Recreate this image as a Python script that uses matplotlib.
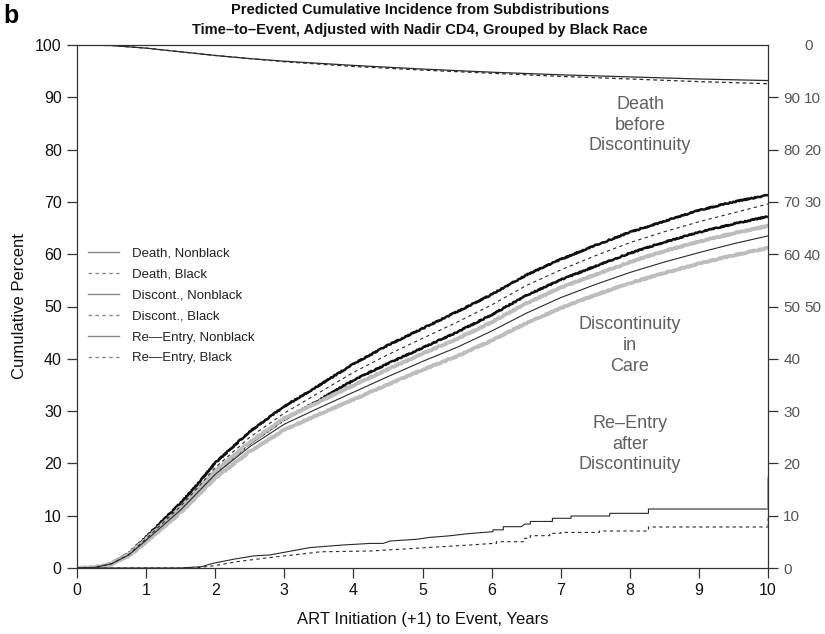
import matplotlib
matplotlib.use('Agg')
import matplotlib.pyplot as plt
from matplotlib.lines import Line2D
import numpy as np

plt.rcParams['font.family'] = ['Liberation Sans', 'DejaVu Sans']

# ---------------- data ----------------
# Discontinuity in care (cumulative %)
disc_x = [0, 0.25, 0.5, 0.75, 1, 1.25, 1.5, 1.75, 2, 2.5, 3, 3.5, 4, 4.5, 5,
          5.5, 6, 6.5, 7, 7.5, 8, 8.5, 9, 9.5, 10]
disc_nonblack = [0, 0.1, 0.8, 2.5, 5.3, 8.2, 11.1, 14.5, 17.9, 23.2, 27.5, 30.6,
                 33.6, 36.6, 39.5, 42.2, 45.3, 48.7, 51.7, 54.2, 56.5, 58.5, 60.3, 62.0, 63.5]
disc_nonblack_hi = [0, 0.1, 0.8, 2.6, 5.5, 8.5, 11.5, 15.0, 18.5, 24.1, 28.6, 31.8,
                    34.9, 38.0, 41.0, 43.8, 47.0, 50.6, 53.6, 56.1, 58.5, 60.6, 62.4, 64.0, 65.4]
disc_nonblack_lo = [0, 0.1, 0.7, 2.3, 5.0, 7.8, 10.6, 13.9, 17.2, 22.3, 26.4, 29.4,
                    32.2, 35.1, 37.9, 40.5, 43.5, 46.8, 49.7, 52.2, 54.5, 56.4, 58.2, 59.8, 61.2]
disc_black = [0, 0.1, 0.8, 2.6, 5.6, 8.7, 11.8, 15.4, 19.2, 25.0, 29.6, 33.5,
              37.4, 40.8, 43.9, 47.0, 50.3, 54.0, 57.0, 59.7, 62.2, 64.3, 66.2, 67.9, 69.6]
disc_black_hi = [0, 0.1, 0.9, 2.8, 5.9, 9.2, 12.4, 16.1, 20.1, 26.1, 30.9, 34.9,
                 39.0, 42.6, 45.8, 49.0, 52.3, 56.0, 59.0, 61.7, 64.2, 66.3, 68.4, 70.0, 71.3]
disc_black_lo = [0, 0.1, 0.7, 2.4, 5.3, 8.2, 11.2, 14.6, 18.3, 23.9, 28.4, 32.1,
                 35.9, 39.1, 42.1, 45.1, 48.4, 52.1, 55.1, 57.7, 60.2, 62.3, 64.2, 65.8, 67.2]

# Death before discontinuity (cumulative incidence %, drawn from the top)
death_x = [0, 0.5, 1, 1.5, 2, 2.5, 3, 4, 5, 6, 7, 8, 9, 10]
death_nonblack = [0, 0.1, 0.6, 1.3, 2.0, 2.6, 3.1, 3.9, 4.6, 5.2, 5.7, 6.1, 6.5, 6.8]
death_black = [0, 0.1, 0.6, 1.3, 2.0, 2.6, 3.2, 4.1, 4.8, 5.4, 6.0, 6.5, 7.0, 7.4]

# Re-entry after discontinuity (cumulative %)
reentry_nonblack_x = [0, 1.5, 1.8, 1.97, 2.26, 2.55, 2.79, 3.04, 3.37, 3.85, 4.24, 4.43,
                      4.53, 4.92, 5.11, 5.35, 5.69, 6.02, 6.02, 6.17, 6.17, 6.43, 6.48,
                      6.56, 6.56, 6.88, 6.88, 7.15, 7.15, 7.71, 7.71, 8.27, 8.27, 10]
reentry_nonblack = [0, 0.0, 0.25, 0.9, 1.66, 2.3, 2.5, 3.1, 3.9, 4.4, 4.7, 4.7,
                    5.16, 5.5, 5.86, 6.1, 6.6, 6.95, 7.3, 7.3, 7.9, 7.9, 8.4,
                    8.4, 8.9, 8.9, 9.5, 9.5, 9.94, 9.94, 10.45, 10.45, 11.28, 11.28]
reentry_black_x = [0, 1.7, 1.97, 2.31, 2.79, 3.27, 3.52, 4.24, 4.49, 5.06, 5.69, 6.02,
                   6.07, 6.07, 6.48, 6.48, 6.56, 6.56, 6.84, 6.84, 7.0, 7.0, 7.56, 7.56,
                   8.27, 8.27, 10]
reentry_black = [0, 0, 0.4, 1.2, 2.0, 2.7, 3.1, 3.25, 3.44, 3.9, 4.4, 4.7,
                 4.7, 5.03, 5.03, 5.67, 5.67, 6.18, 6.18, 6.63, 6.63, 6.8, 6.8, 7.07,
                 7.07, 7.84, 7.84]
reentry_end_nonblack = [11.28, 17.3]
reentry_end_black = [7.84, 10.2]

legend_labels = ['Death, Nonblack', 'Death, Black', 'Discont., Nonblack',
                 'Discont., Black', 'Re\u2014Entry, Nonblack', 'Re\u2014Entry, Black']

left_ticks = list(range(0, 101, 10))
right_ticks = list(range(0, 91, 10))
death_ticks = list(range(0, 51, 10))
x_ticks = list(range(0, 11))

# ---------------- figure ----------------
fig = plt.figure(figsize=(8.25, 6.34), dpi=100)
ax = fig.add_axes([77 / 825, 1 - 568 / 634, 691 / 825, 523 / 634])
ax.set_xlim(0, 10)
ax.set_ylim(0, 100)

dark = '#2a2a2a'
gray = '#bdbdbd'

# discontinuity confidence bands (thick, rough)
for yv, col, lw in [(disc_black_hi, '#111111', 1.8), (disc_black_lo, '#111111', 1.8),
                    (disc_nonblack_hi, gray, 2.6), (disc_nonblack_lo, gray, 2.6)]:
    ln, = ax.plot(disc_x, yv, color=col, lw=lw, solid_capstyle='butt')
    ln.set_sketch_params(scale=0.6, length=2.0, randomness=3.0)
ax.plot(disc_x, disc_nonblack, color=dark, lw=0.8)
ax.plot(disc_x, disc_black, color=dark, lw=0.8, dashes=(3, 3))

# death (from top)
ax.plot(death_x, 100 - np.array(death_nonblack), color=dark, lw=0.9)
ax.plot(death_x, 100 - np.array(death_black), color=dark, lw=0.9, dashes=(3, 2.5))

# re-entry
ax.plot(reentry_nonblack_x, reentry_nonblack, color=dark, lw=0.8)
ax.plot(reentry_black_x, reentry_black, color=dark, lw=0.8, dashes=(3, 3))
ax.plot([10, 10], reentry_end_nonblack, color='#999999', lw=1.2, clip_on=False)
ax.plot([10, 10], reentry_end_black, color='#999999', lw=1.2, dashes=(2, 1.5), clip_on=False)

# axes styling
for sp in ax.spines.values():
    sp.set_color('#333333')
    sp.set_linewidth(0.9)
ax.set_xticks(x_ticks)
ax.set_yticks(left_ticks)
ax.set_xticklabels([str(v) for v in x_ticks])
ax.set_yticklabels([str(v) for v in left_ticks])
ax.tick_params(direction='out', length=7, width=0.9, color='#333333',
               labelsize=11.5, labelcolor='#111111', pad=4)

ax2 = ax.twinx()
ax2.set_ylim(0, 100)
ax2.set_yticks(right_ticks)
ax2.set_yticklabels([str(v) for v in right_ticks])
ax2.tick_params(axis='y', direction='out', length=7, width=0.9, color='#333333',
                labelsize=11, labelcolor='#555555', pad=4)
for sp in ax2.spines.values():
    sp.set_visible(False)

ax3 = ax.twinx()
ax3.set_ylim(100, 0)
ax3.set_yticks(death_ticks)
ax3.set_yticklabels([str(v) for v in death_ticks])
ax3.tick_params(axis='y', length=0, labelsize=11, labelcolor='#555555', pad=26)
for sp in ax3.spines.values():
    sp.set_visible(False)

ax.set_xlabel('ART Initiation (+1) to Event, Years', fontsize=12, color='#111111', labelpad=10)
ax.set_ylabel('Cumulative Percent', fontsize=12, color='#111111', labelpad=6)

fig.text(420 / 825, 1 - 20 / 634,
         'Predicted Cumulative Incidence from Subdistributions\n'
         'Time\u2013to\u2013Event, Adjusted with Nadir CD4, Grouped by Black Race',
         ha='center', va='center', fontsize=10.5, fontweight='bold', linespacing=1.5,
         color='#111111')
fig.text(0.004, 1 - 16 / 634, 'b', ha='left', va='center', fontsize=18, fontweight='bold')

# annotations
ann_col = '#606060'
ax.text(8.15, 84.7, 'Death\nbefore\nDiscontinuity', ha='center', va='center',
        fontsize=13, color=ann_col, linespacing=1.3)
ax.text(8.0, 42.6, 'Discontinuity\nin\nCare', ha='center', va='center',
        fontsize=13, color=ann_col, linespacing=1.3)
ax.text(8.0, 23.7, 'Re\u2013Entry\nafter\nDiscontinuity', ha='center', va='center',
        fontsize=13, color=ann_col, linespacing=1.3)

# legend
handles = []
for i, lab in enumerate(legend_labels):
    if i % 2 == 0:
        handles.append(Line2D([], [], color='#8a8a8a', lw=1.0))
    else:
        handles.append(Line2D([], [], color='#8a8a8a', lw=1.0, dashes=(2.5, 2.5)))
leg = ax.legend(handles, legend_labels, loc='center left', bbox_to_anchor=(0.0, 0.501),
                frameon=False, fontsize=9.5, handlelength=2.4, handletextpad=1.0,
                labelspacing=0.66, borderaxespad=0.6, borderpad=0.2)
for t in leg.get_texts():
    t.set_color('#222222')

fig.savefig('out.png', dpi=100)
